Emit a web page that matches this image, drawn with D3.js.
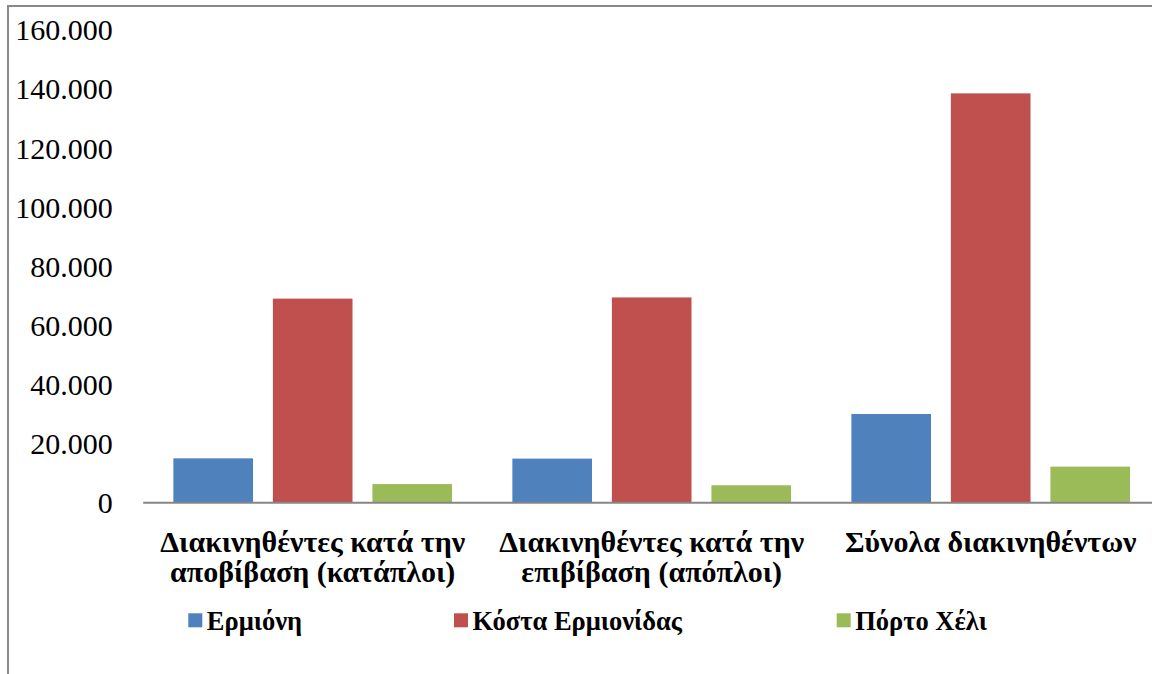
<!DOCTYPE html>
<html>
<head>
<meta charset="utf-8">
<script src="https://cdn.jsdelivr.net/npm/d3@7"></script>
<style>
  html, body { margin: 0; padding: 0; background: #fff; }
  svg { display: block; }
</style>
</head>
<body>
<div id="vis"></div>
<script>
// Chart data
var categories = [
  'Διακινηθέντες κατά την αποβίβαση (κατάπλοι)',
  'Διακινηθέντες κατά την επιβίβαση (απόπλοι)',
  'Σύνολα διακινηθέντων'
];
var series = ['Ερμιόνη', 'Κόστα Ερμιονίδας', 'Πόρτο Χέλι'];
var ermioni = [15000, 14900, 30000];
var kosta = [69000, 69400, 138400];
var porto = [6300, 5900, 12200];
var yTicks = [0, 20000, 40000, 60000, 80000, 100000, 120000, 140000, 160000];

var colors = ['#4F81BD', '#C0504D', '#9BBB59'];
var fontName = "'Liberation Serif'";

// Sizing
var width = 1152;
var height = 674;
var plot = { left: 143.2, right: 1160.2, top: 29.5, bottom: 502.7 };

var svg = d3.select('#vis').append('svg')
  .attr('width', width)
  .attr('height', height);

// frame, only top and left edges fall inside the picture
svg.append('rect')
  .attr('x', 8).attr('y', 6)
  .attr('width', 1300).attr('height', 800)
  .attr('fill', '#fff')
  .attr('stroke', '#898989')
  .attr('stroke-width', 2);

var x0 = d3.scaleBand()
  .domain(categories)
  .range([plot.left, plot.right])
  .paddingInner(0.178)
  .paddingOuter(0.089);

var x1 = d3.scaleBand()
  .domain(series)
  .range([0, x0.bandwidth()])
  .paddingInner(0.2);

var y = d3.scaleLinear()
  .domain([0, 160000])
  .range([plot.bottom, plot.top]);

var values = [ermioni, kosta, porto];
var rows = [];
categories.forEach(function (c, i) {
  series.forEach(function (s, j) {
    rows.push({ cat: c, ser: s, value: values[j][i], color: colors[j] });
  });
});

// Y axis with dot thousands separator
var locale = d3.formatLocale({ decimal: ',', thousands: '.', grouping: [3], currency: ['', '€'] });
var yAxis = d3.axisLeft(y)
  .tickValues(yTicks)
  .tickSize(0)
  .tickPadding(30.5)
  .tickFormat(locale.format(',d'));

var gy = svg.append('g')
  .attr('transform', 'translate(' + plot.left + ',0)')
  .call(yAxis)
  .attr('font-family', null)
  .attr('font-size', null);
gy.select('.domain').remove();
gy.selectAll('text')
  .style('font-family', fontName)
  .style('font-size', '30px')
  .attr('fill', '#000')
  .attr('dy', '0.34em');

// bars
svg.append('g').selectAll('rect')
  .data(rows)
  .enter().append('rect')
  .attr('x', function (d) { return x0(d.cat) + x1(d.ser); })
  .attr('y', function (d) { return y(d.value); })
  .attr('width', x1.bandwidth())
  .attr('height', function (d) { return y(0) - y(d.value); })
  .attr('fill', function (d) { return d.color; });

// category axis line
svg.append('line')
  .attr('x1', plot.left).attr('x2', plot.right)
  .attr('y1', y(0)).attr('y2', y(0))
  .attr('stroke', '#868686')
  .attr('stroke-width', 2);

// category labels, wrapped
var catLabels = svg.append('g').selectAll('text')
  .data(categories)
  .enter().append('text')
  .attr('x', function (d) { return x0(d) + x0.bandwidth() / 2; })
  .attr('y', 551.7)
  .attr('text-anchor', 'middle')
  .style('font-family', fontName)
  .style('font-weight', 'bold')
  .style('font-size', '30px')
  .attr('fill', '#000')
  .text(function (d) { return d; });

catLabels.each(function (d) {
  var el = d3.select(this);
  var words = d.split(' ');
  var lines = [];
  var line = [];
  el.text(null);
  var probe = el.append('tspan');
  words.forEach(function (w) {
    line.push(w);
    probe.text(line.join(' '));
    if (probe.node().getComputedTextLength() > 330 && line.length > 1) {
      line.pop();
      lines.push(line.join(' '));
      line = [w];
    }
  });
  lines.push(line.join(' '));
  probe.remove();
  lines.forEach(function (t, i) {
    el.append('tspan')
      .attr('x', el.attr('x'))
      .attr('dy', i === 0 ? 0 : 30)
      .text(t);
  });
});

// legend
var legendX = [188.3, 454, 836.7];
var legend = svg.append('g').selectAll('g')
  .data(series)
  .enter().append('g')
  .attr('transform', function (d, i) { return 'translate(' + legendX[i] + ',613.3)'; });

legend.append('rect')
  .attr('width', 14).attr('height', 14)
  .attr('fill', function (d, i) { return colors[i]; });

legend.append('text')
  .attr('x', 18.5)
  .attr('y', 16.9)
  .style('font-family', fontName)
  .style('font-weight', 'bold')
  .style('font-size', '26.5px')
  .attr('fill', '#000')
  .text(function (d) { return d; });
</script>
</body>
</html>
